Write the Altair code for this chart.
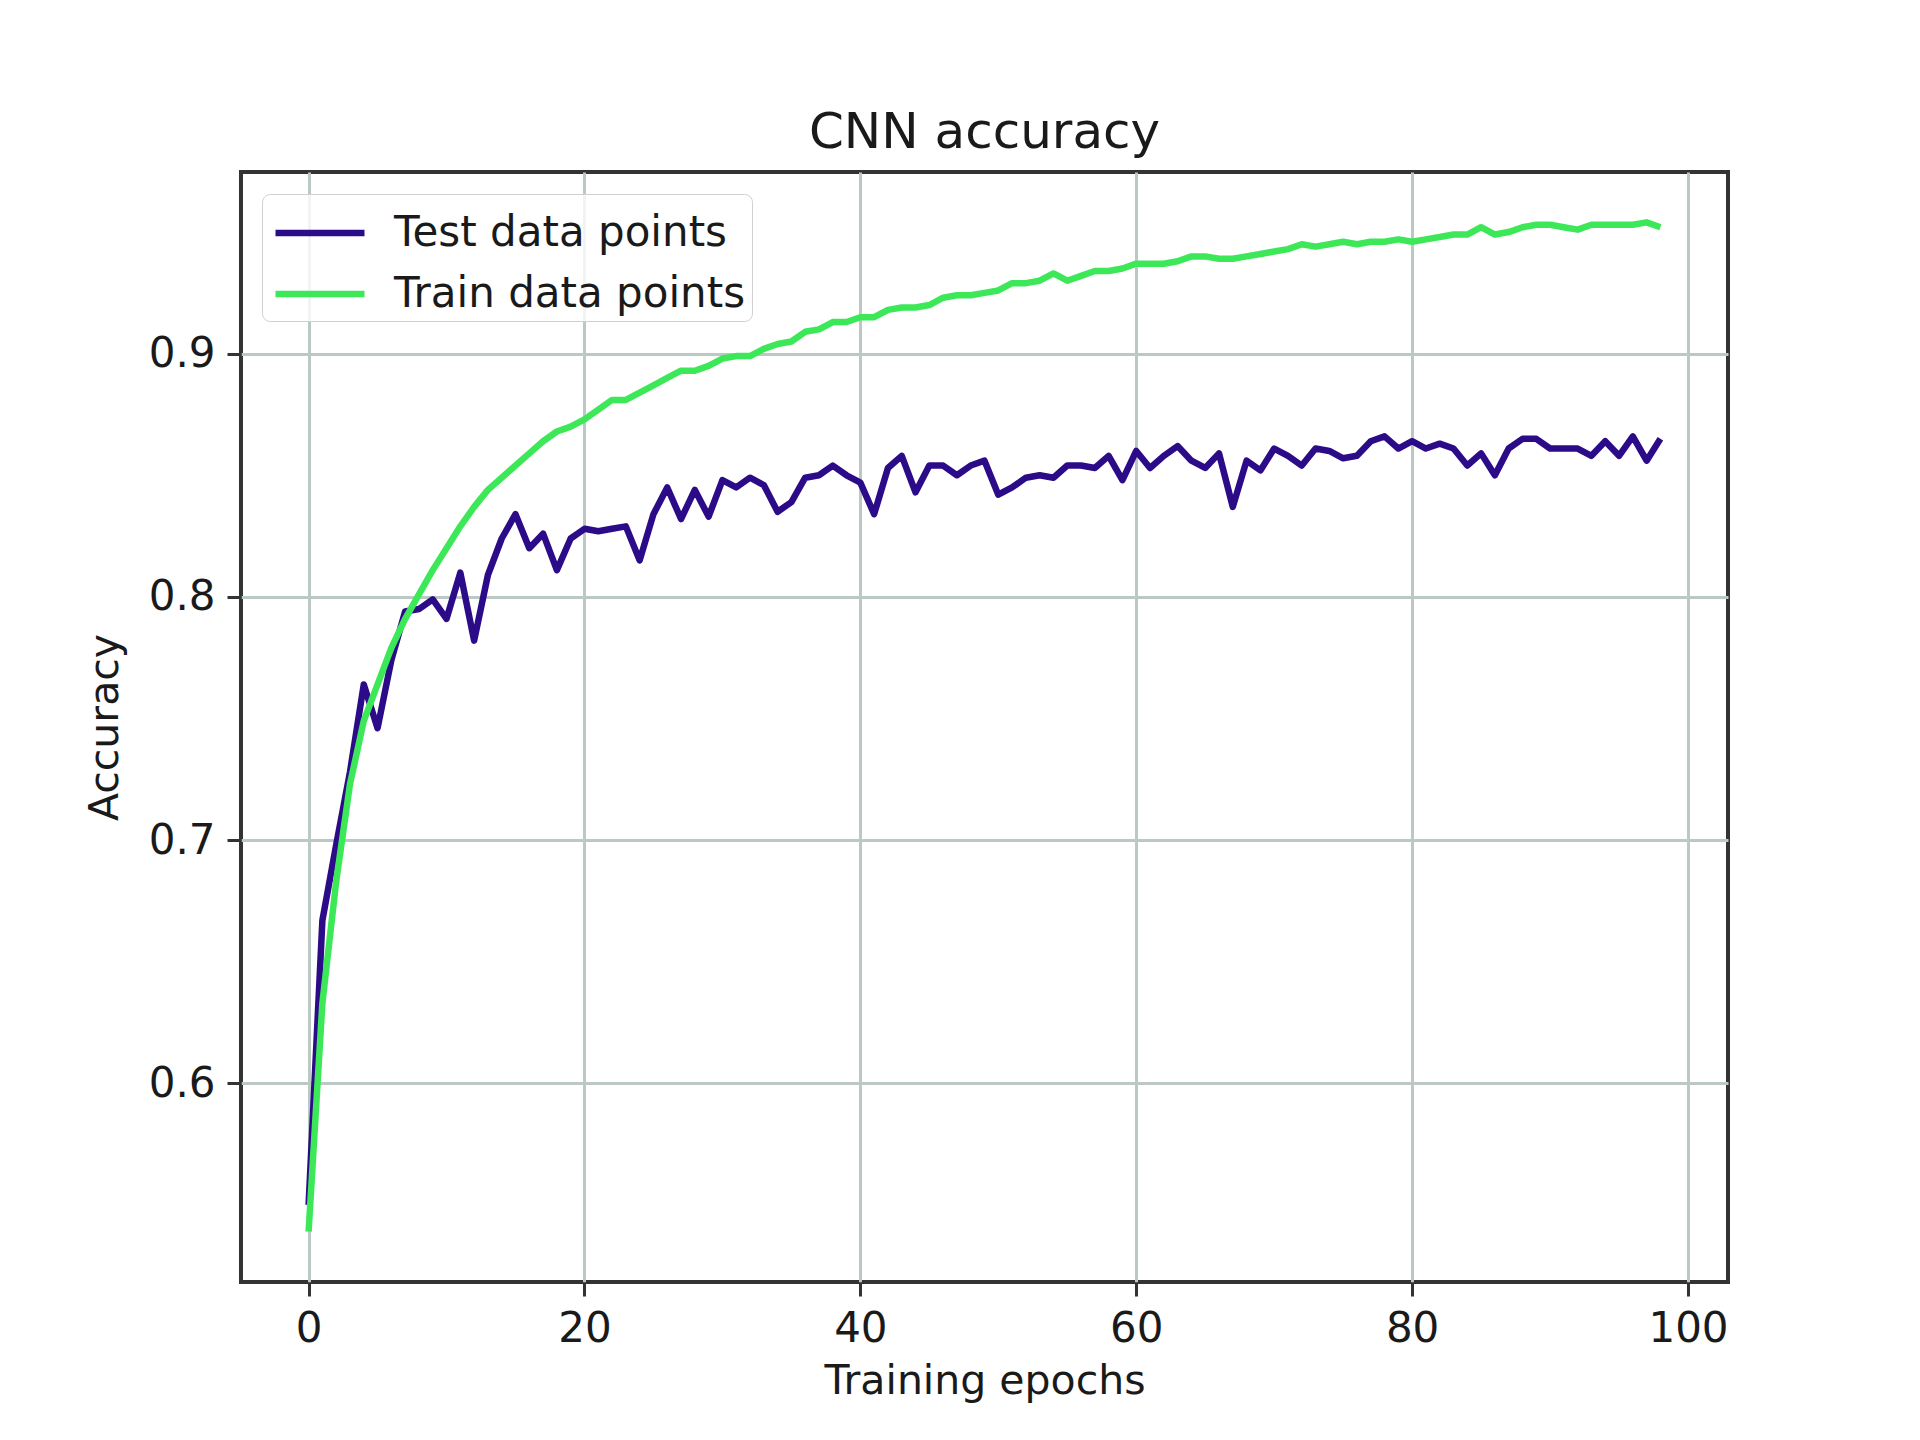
import altair as alt
import pandas as pd

epochs = list(range(99))

test_acc = [
    0.550, 0.667, 0.698, 0.728, 0.764, 0.746, 0.774, 0.794, 0.795, 0.799,
    0.791, 0.810, 0.782, 0.809, 0.824, 0.834, 0.820, 0.826, 0.811, 0.824,
    0.828, 0.827, 0.828, 0.829, 0.815, 0.834, 0.845, 0.832, 0.844, 0.833,
    0.848, 0.845, 0.849, 0.846, 0.835, 0.839, 0.849, 0.850, 0.854, 0.850,
    0.847, 0.834, 0.853, 0.858, 0.843, 0.854, 0.854, 0.850, 0.854, 0.856,
    0.842, 0.845, 0.849, 0.850, 0.849, 0.854, 0.854, 0.853, 0.858, 0.848,
    0.860, 0.853, 0.858, 0.862, 0.856, 0.853, 0.859, 0.837, 0.856, 0.852,
    0.861, 0.858, 0.854, 0.861, 0.860, 0.857, 0.858, 0.864, 0.866, 0.861,
    0.864, 0.861, 0.863, 0.861, 0.854, 0.859, 0.850, 0.861, 0.865, 0.865,
    0.861, 0.861, 0.861, 0.858, 0.864, 0.858, 0.866, 0.856, 0.865,
]

train_acc = [
    0.539, 0.633, 0.683, 0.723, 0.749, 0.764, 0.779, 0.791, 0.801, 0.811,
    0.820, 0.829, 0.837, 0.844, 0.849, 0.854, 0.859, 0.864, 0.868, 0.870,
    0.873, 0.877, 0.881, 0.881, 0.884, 0.887, 0.890, 0.893, 0.893, 0.895,
    0.898, 0.899, 0.899, 0.902, 0.904, 0.905, 0.909, 0.910, 0.913, 0.913,
    0.915, 0.915, 0.918, 0.919, 0.919, 0.920, 0.923, 0.924, 0.924, 0.925,
    0.926, 0.929, 0.929, 0.930, 0.933, 0.930, 0.932, 0.934, 0.934, 0.935,
    0.937, 0.937, 0.937, 0.938, 0.940, 0.940, 0.939, 0.939, 0.940, 0.941,
    0.942, 0.943, 0.945, 0.944, 0.945, 0.946, 0.945, 0.946, 0.946, 0.947,
    0.946, 0.947, 0.948, 0.949, 0.949, 0.952, 0.949, 0.950, 0.952, 0.953,
    0.953, 0.952, 0.951, 0.953, 0.953, 0.953, 0.953, 0.954, 0.952,
]

series_names = ["Test data points", "Train data points"]
series_colors = ["#2b0b87", "#3de858"]

x_ticks = [0, 20, 40, 60, 80, 100]
y_ticks = [0.6, 0.7, 0.8, 0.9]

rows = []
for name, vals in zip(series_names, [test_acc, train_acc]):
    for e, v in zip(epochs, vals):
        rows.append({"epoch": e, "acc": v, "series": name})
df = pd.DataFrame(rows)

FONT = "DejaVu Sans"
TXT = "#1a1a1a"

chart = (
    alt.Chart(df)
    .mark_line(strokeWidth=6.5, strokeJoin="round", strokeCap="butt")
    .encode(
        x=alt.X(
            "epoch:Q",
            title="Training epochs",
            scale=alt.Scale(domain=[-4.9, 102.9], nice=False, zero=False),
            axis=alt.Axis(values=x_ticks, format="d"),
        ),
        y=alt.Y(
            "acc:Q",
            title="Accuracy",
            scale=alt.Scale(domain=[0.5183, 0.9747], nice=False, zero=False),
            axis=alt.Axis(values=y_ticks, format=".1f"),
        ),
        color=alt.Color(
            "series:N",
            scale=alt.Scale(domain=series_names, range=series_colors),
            legend=alt.Legend(
                title=None,
                orient="none",
                legendX=21,
                legendY=22,
                symbolType="M-1.5,0H1.5",
                symbolSize=3520,
                symbolStrokeWidth=6.5,
                symbolOffset=19,
                labelFontSize=42,
                labelFont=FONT,
                labelColor=TXT,
                labelOffset=41,
                rowPadding=7,
                padding=6,
                strokeColor="#d0d0d0",
                fillColor="rgba(255,255,255,0.8)",
                cornerRadius=8,
                labelLimit=600,
            ),
        ),
        order=alt.Order("epoch:Q"),
    )
    .properties(
        width=1487,
        height=1110,
        title=alt.TitleParams(
            "CNN accuracy",
            font=FONT,
            fontSize=50,
            fontWeight="normal",
            color=TXT,
            offset=14,
            anchor="middle",
        ),
        autosize=alt.AutoSizeParams(type="none"),
        padding={"left": 233, "top": 164, "right": 160, "bottom": 140},
    )
    .configure_view(stroke="#333333", strokeWidth=4)
    .configure_axis(
        labelFont=FONT,
        labelFontSize=42,
        labelColor=TXT,
        titleFont=FONT,
        titleFontSize=41,
        titleFontWeight="normal",
        titleColor=TXT,
        domain=False,
        tickColor="#333333",
        tickSize=14,
        tickWidth=3,
        labelPadding=12,
        grid=True,
        gridColor="#bcc8c4",
        gridWidth=3,
    )
    .configure_axisX(titlePadding=12)
    .configure_axisY(titlePadding=22)
)

chart.save("out.html", embed_options={"renderer": "svg", "actions": False})
